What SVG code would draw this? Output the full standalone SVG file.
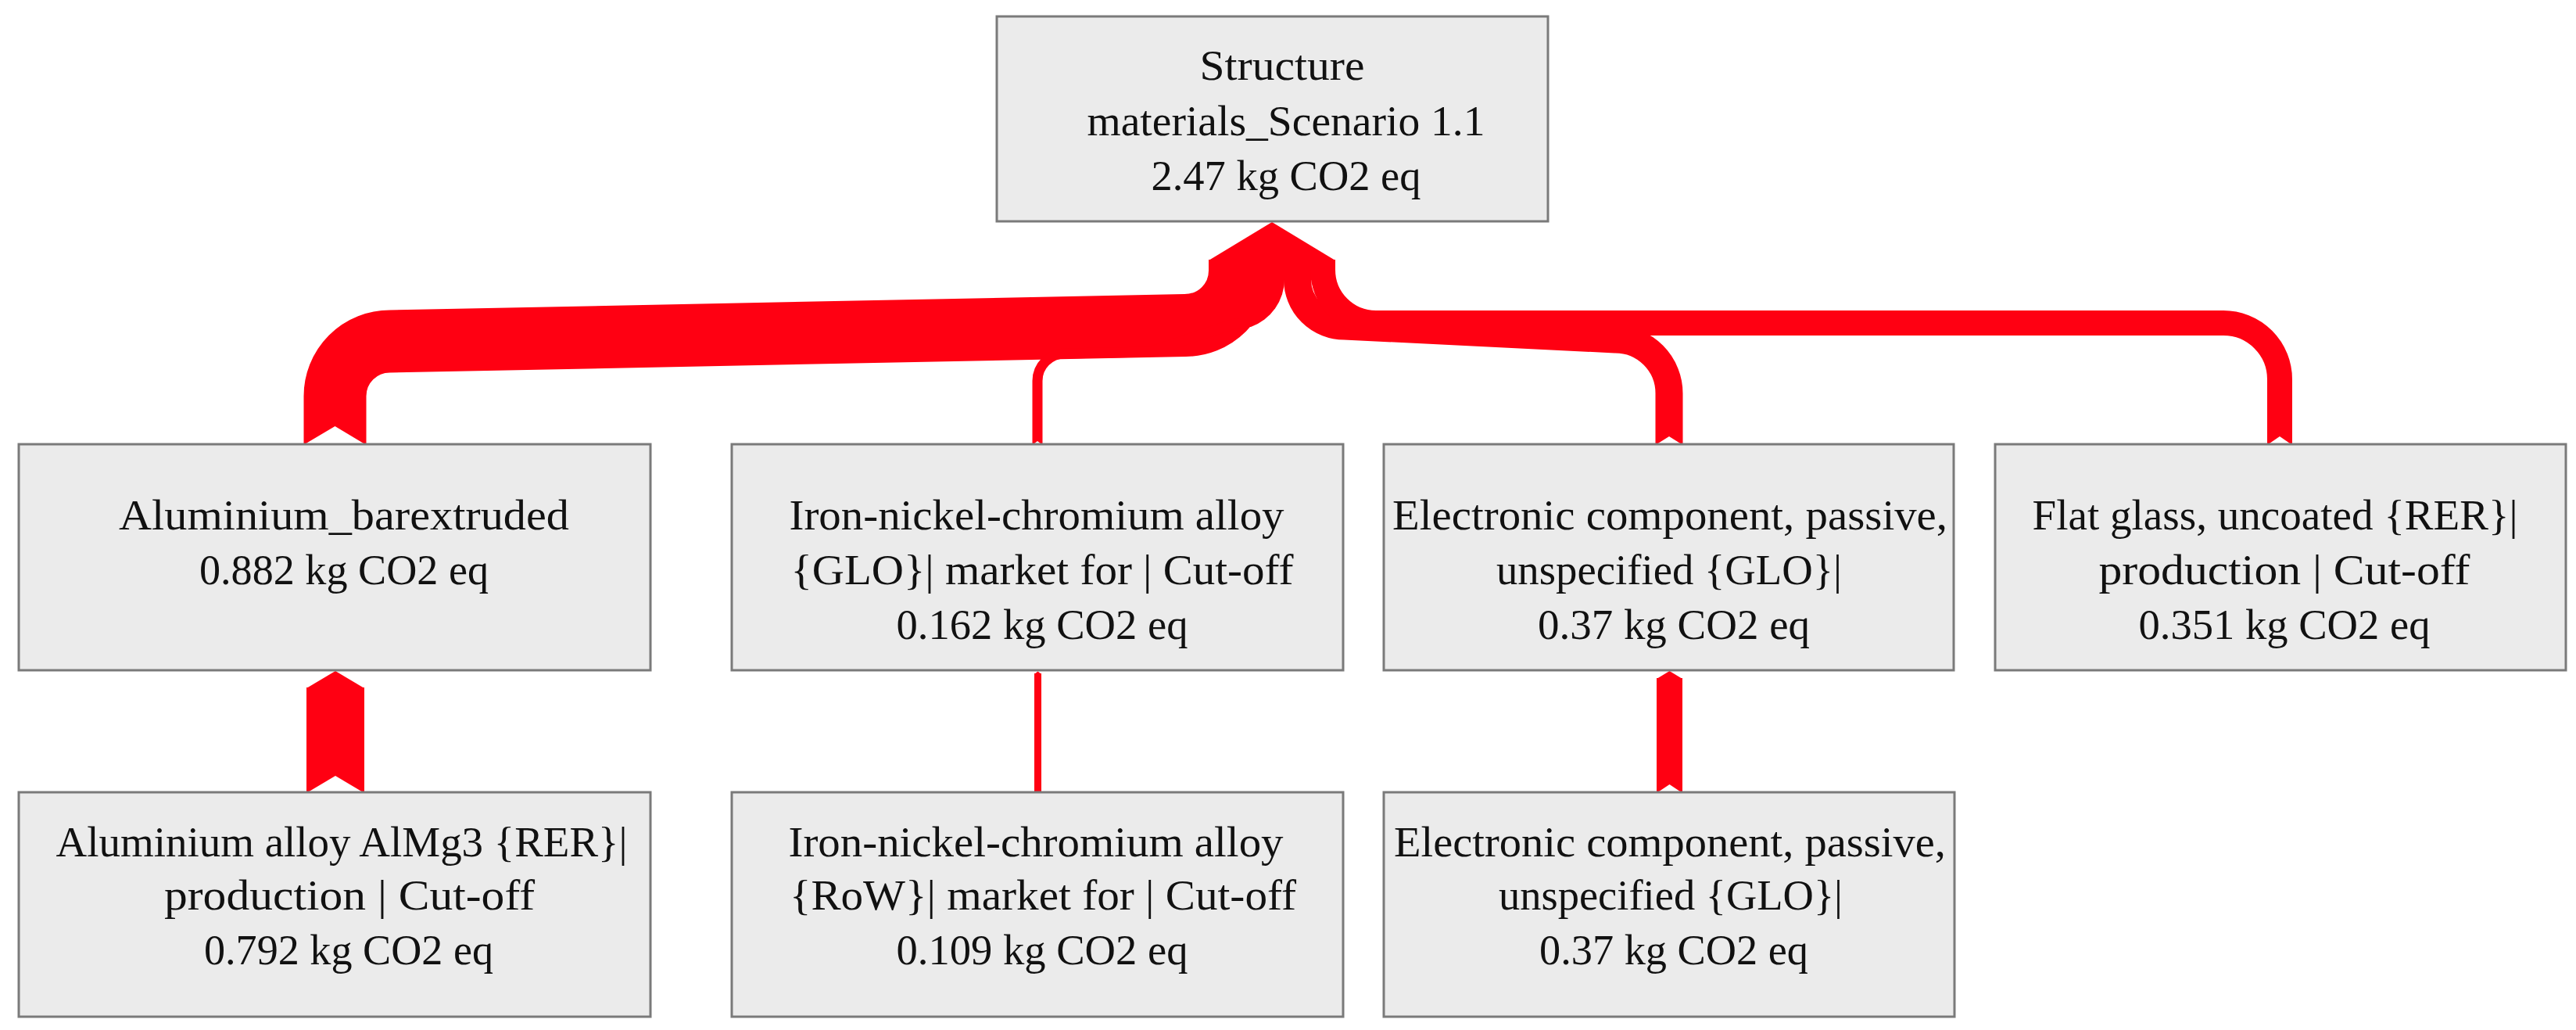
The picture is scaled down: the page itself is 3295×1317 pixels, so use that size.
<svg xmlns="http://www.w3.org/2000/svg" width="3295" height="1317" viewBox="0 0 3295 1317">
<style>
.box{fill:#ebebeb;stroke:#7a7a7a;stroke-width:3}
.t{font-family:"Liberation Serif","Times New Roman",serif;font-size:54px;fill:#111;text-anchor:middle}
.flow{fill:none;stroke:#ff0012;stroke-linecap:butt;stroke-linejoin:round}
.head{fill:#ff0012}
.notch{fill:#ffffff}
</style>
<rect width="3295" height="1317" fill="#ffffff"/>
<g id="connectors">
  <path class="flow" stroke-width="80" d="M 428.5 568 V 506.5 A 70 70 0 0 1 498.5 436.5 L 1516 416 A 70 70 0 0 0 1586 346 V 332"/>
  <path class="flow" stroke-width="13" d="M 1327 568 V 487 A 35 35 0 0 1 1362 452 L 1470 450 L 1577 414.5 A 57.5 57.5 0 0 0 1634.5 357 V 332"/>
  <path class="head" d="M 1585 332 H 1643 V 357 A 65 65 0 0 1 1600 418 L 1585 418 Z"/>
  <path class="flow" stroke-width="35" d="M 2135 568 V 503 A 69 69 0 0 0 2066 434 L 1720 417 A 60 60 0 0 1 1659.5 357 V 332"/>
  <path class="flow" stroke-width="32" d="M 2916 568 V 485 A 72 72 0 0 0 2844 413 H 1760 A 68 68 0 0 1 1692 345 V 332"/>
  <polygon class="head" points="1546,333 1627,284 1708,333"/>
  <polygon class="notch" points="388,569 428.5,545 468.5,569"/>
  <polygon class="notch" points="1320.5,569 1327,564 1333.5,569"/>
  <polygon class="notch" points="2117.5,569 2135,558 2152.5,569"/>
  <polygon class="notch" points="2900,569 2916,558 2932,569"/>
  <path class="flow" stroke-width="74" d="M 429 1013 V 879"/>
  <polygon class="head" points="392,880 429,858 466,880"/>
  <polygon class="notch" points="392,1014 429,992 466,1014"/>
  <path class="flow" stroke-width="9" d="M 1327.5 1013 V 861"/>
  <polygon class="head" points="1323,862 1327.5,858.5 1332,862"/>
  <path class="flow" stroke-width="33" d="M 2135.5 1013 V 867"/>
  <polygon class="head" points="2119,868 2135.5,858 2152,868"/>
  <polygon class="notch" points="2119,1014 2135.5,1003 2152,1014"/>
</g>
<g id="node-root">
  <rect class="box" x="1275" y="21" width="705" height="262"/>
  <text class="t" x="1640" y="102" textLength="211" lengthAdjust="spacingAndGlyphs">Structure</text>
  <text class="t" x="1645" y="173" textLength="509" lengthAdjust="spacingAndGlyphs">materials_Scenario 1.1</text>
  <text class="t" x="1645" y="243" textLength="345" lengthAdjust="spacingAndGlyphs">2.47 kg CO2 eq</text>
</g>
<g id="node-aluminium-bar">
  <rect class="box" x="24" y="568" width="808" height="289"/>
  <text class="t" x="440" y="677" textLength="576" lengthAdjust="spacingAndGlyphs">Aluminium_barextruded</text>
  <text class="t" x="440" y="747" textLength="370" lengthAdjust="spacingAndGlyphs">0.882 kg CO2 eq</text>
</g>
<g id="node-iron-glo">
  <rect class="box" x="936" y="568" width="782" height="289"/>
  <text class="t" x="1326" y="677" textLength="633" lengthAdjust="spacingAndGlyphs">Iron-nickel-chromium alloy</text>
  <text class="t" x="1333" y="747" textLength="643" lengthAdjust="spacingAndGlyphs">{GLO}| market for | Cut-off</text>
  <text class="t" x="1333" y="817" textLength="373" lengthAdjust="spacingAndGlyphs">0.162 kg CO2 eq</text>
</g>
<g id="node-electronic">
  <rect class="box" x="1770" y="568" width="729" height="289"/>
  <text class="t" x="2136" y="677" textLength="710" lengthAdjust="spacingAndGlyphs">Electronic component, passive,</text>
  <text class="t" x="2135" y="747" textLength="442" lengthAdjust="spacingAndGlyphs">unspecified {GLO}|</text>
  <text class="t" x="2141" y="817" textLength="348" lengthAdjust="spacingAndGlyphs">0.37 kg CO2 eq</text>
</g>
<g id="node-flat-glass">
  <rect class="box" x="2552" y="568" width="730" height="289"/>
  <text class="t" x="2910" y="677" textLength="621" lengthAdjust="spacingAndGlyphs">Flat glass, uncoated {RER}|</text>
  <text class="t" x="2922" y="747" textLength="475" lengthAdjust="spacingAndGlyphs">production | Cut-off</text>
  <text class="t" x="2922" y="817" textLength="373" lengthAdjust="spacingAndGlyphs">0.351 kg CO2 eq</text>
</g>
<g id="node-aluminium-alloy">
  <rect class="box" x="24" y="1013" width="808" height="287"/>
  <text class="t" x="437" y="1095" textLength="731" lengthAdjust="spacingAndGlyphs">Aluminium alloy AlMg3 {RER}|</text>
  <text class="t" x="447" y="1163" textLength="474" lengthAdjust="spacingAndGlyphs">production | Cut-off</text>
  <text class="t" x="446" y="1233" textLength="370" lengthAdjust="spacingAndGlyphs">0.792 kg CO2 eq</text>
</g>
<g id="node-iron-row">
  <rect class="box" x="936" y="1013" width="782" height="287"/>
  <text class="t" x="1325" y="1095" textLength="633" lengthAdjust="spacingAndGlyphs">Iron-nickel-chromium alloy</text>
  <text class="t" x="1334" y="1163" textLength="648" lengthAdjust="spacingAndGlyphs">{RoW}| market for | Cut-off</text>
  <text class="t" x="1333" y="1233" textLength="373" lengthAdjust="spacingAndGlyphs">0.109 kg CO2 eq</text>
</g>
<g id="node-electronic-2">
  <rect class="box" x="1770" y="1013" width="730" height="287"/>
  <text class="t" x="2136" y="1095" textLength="706" lengthAdjust="spacingAndGlyphs">Electronic component, passive,</text>
  <text class="t" x="2137" y="1163" textLength="440" lengthAdjust="spacingAndGlyphs">unspecified {GLO}|</text>
  <text class="t" x="2141" y="1233" textLength="344" lengthAdjust="spacingAndGlyphs">0.37 kg CO2 eq</text>
</g>
</svg>
